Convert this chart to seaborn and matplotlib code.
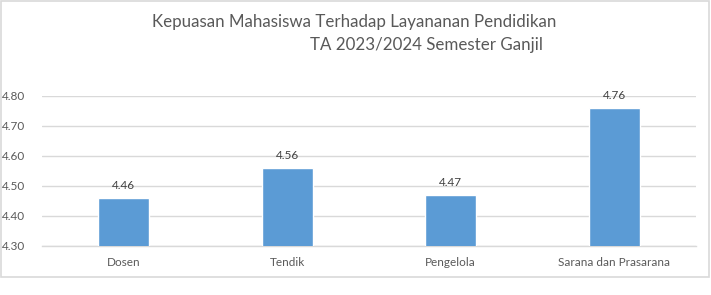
import matplotlib
matplotlib.use("Agg")
import matplotlib.pyplot as plt
import seaborn as sns
import pandas as pd
from matplotlib.patches import Rectangle

categories = ["Dosen", "Tendik", "Pengelola", "Sarana dan Prasarana"]
values = [4.46, 4.56, 4.47, 4.76]
yticks = [4.30, 4.40, 4.50, 4.60, 4.70, 4.80]
title1 = "Kepuasan Mahasiswa Terhadap Layananan Pendidikan"
title2 = "TA 2023/2024 Semester Ganjil"

sns.set_theme(style="white")
plt.rcParams['font.family'] = ['Lato', 'DejaVu Sans']

W, H = 711, 295
fig = plt.figure(figsize=(W / 100, H / 100), dpi=100)
ax = fig.add_axes([42 / W, 1 - 246 / H, (696 - 42) / W, (246 - 95.7) / H])

df = pd.DataFrame({"cat": categories, "val": values})
sns.barplot(data=df, x="cat", y="val", color="#5B9BD5", width=0.31,
            saturation=1, ax=ax, zorder=3)

ax.set_ylim(4.30, 4.80)
ax.set_yticks(yticks)
ax.set_yticklabels([f"{t:.2f}" for t in yticks], color="#595959", fontsize=8.5)
ax.tick_params(axis="x", colors="#595959", labelsize=8.5, length=0, pad=8)
ax.tick_params(axis="y", length=0, pad=12)
ax.set_xlabel("")
ax.set_ylabel("")
ax.yaxis.grid(True, color="#D9D9D9", linewidth=1, zorder=0)
ax.set_axisbelow(True)
for s in ["top", "right", "left"]:
    ax.spines[s].set_visible(False)
ax.spines["bottom"].set_color("#D9D9D9")
ax.spines["bottom"].set_linewidth(1)

for p, v in zip(ax.patches, values):
    ax.annotate(f"{v:.2f}", (p.get_x() + p.get_width() / 2, p.get_height()),
                xytext=(0, 5), textcoords="offset points", ha="center",
                va="bottom", fontsize=8.5, color="#404040")

fig.text(152 / W, 1 - 22 / H, title1, ha="left", va="center",
         fontsize=12.2, color="#595959")
fig.text(310 / W, 1 - 45 / H, title2, ha="left", va="center",
         fontsize=12.2, color="#595959")

fig.patches.append(Rectangle((1 / W, 1 - 277 / H), 708 / W, 276 / H,
                             transform=fig.transFigure, fill=False,
                             edgecolor="#D9D9D9", linewidth=1.2))

fig.savefig("out.png", dpi=100, facecolor="white")
